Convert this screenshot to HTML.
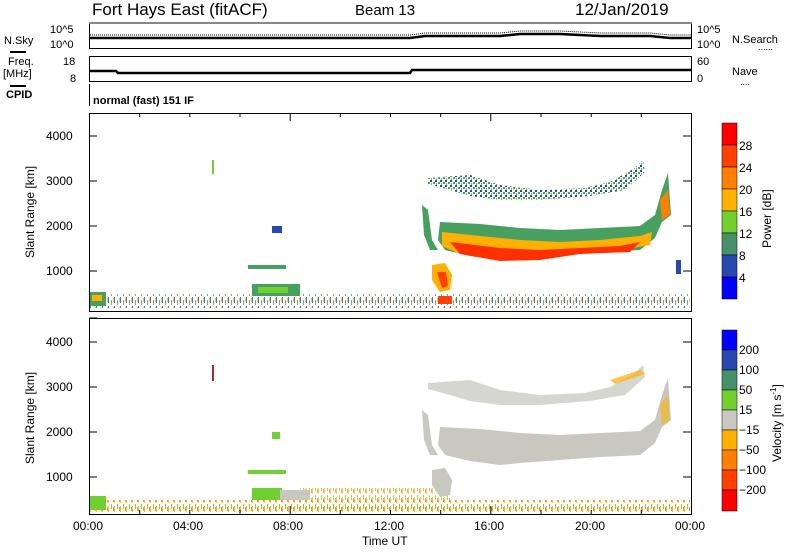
<!DOCTYPE html>
<html><head><style>
body{margin:0;background:#fff;}
svg{display:block;font-family:"Liberation Sans",sans-serif;}
</style></head><body>
<svg width="800" height="554" viewBox="0 0 800 554">
<defs>
<pattern id="spk" width="6" height="9" patternUnits="userSpaceOnUse">
<rect x="0" y="0" width="1" height="6" fill="#2848b0"/><rect x="3" y="3" width="1" height="5" fill="#48a060"/><rect x="5" y="1" width="1" height="4" fill="#ffb000"/>
</pattern>
<pattern id="spk2" width="6" height="9" patternUnits="userSpaceOnUse">
<rect x="0" y="2" width="1" height="6" fill="#ffb000"/><rect x="3" y="0" width="1" height="5" fill="#70d030"/><rect x="5" y="3" width="1" height="4" fill="#ff8000"/>
</pattern>
<pattern id="sp3" width="5" height="5" patternUnits="userSpaceOnUse">
<rect x="0" y="0" width="2" height="2" fill="#2848b0"/><rect x="3" y="2" width="2" height="2" fill="#48a060"/><rect x="1" y="3" width="1" height="2" fill="#70d030"/>
</pattern>
</defs>
<text x="92" y="15" font-size="17">Fort Hays East (fitACF)</text>
<text x="355" y="15" font-size="15">Beam 13</text>
<text x="575" y="15" font-size="17">12/Jan/2019</text>
<rect x="89.5" y="23.5" width="602" height="25" fill="none" stroke="#000"/>
<rect x="89" y="22" width="603" height="2" fill="#888"/>
<path d="M90 38 H410 L425 36 H500 L520 34 H560 L600 36 H650 L670 38 H691" stroke="#000" stroke-width="2.5" fill="none"/>
<path d="M90 35 H410 L425 33 H500 L520 31 H560 L600 33 H650 L670 35 H691" stroke="#000" stroke-width="1" stroke-dasharray="1,1" fill="none"/>
<text x="50" y="33" font-size="11">10^5</text><text x="50" y="48" font-size="11">10^0</text>
<text x="697" y="33" font-size="11">10^5</text><text x="697" y="48" font-size="11">10^0</text>
<text x="4" y="44" font-size="11">N.Sky</text><line x1="10" y1="52" x2="26" y2="52" stroke="#000" stroke-width="2"/>
<text x="732" y="43" font-size="11">N.Search</text><text x="758" y="50" font-size="9">......</text>
<rect x="89.5" y="56.5" width="602" height="25" fill="none" stroke="#000"/>
<path d="M90 71 H116 L118 73 H410 L412 70 H691" stroke="#000" stroke-width="2.5" fill="none"/>
<text x="63" y="65" font-size="11">18</text><text x="70" y="82" font-size="11">8</text>
<text x="697" y="65" font-size="11">60</text><text x="697" y="82" font-size="11">0</text>
<text x="8" y="65" font-size="11">Freq.</text><text x="3" y="77" font-size="11">[MHz]</text><line x1="10" y1="86" x2="26" y2="86" stroke="#000" stroke-width="2"/>
<text x="732" y="75" font-size="11">Nave</text><text x="740" y="85" font-size="9">....</text>
<text x="6" y="98" font-size="11" font-weight="bold">CPID</text>
<line x1="89.5" y1="84" x2="89.5" y2="106" stroke="#000"/>
<text x="93" y="104" font-size="11" font-weight="bold">normal (fast) 151 IF</text>

<!-- Power panel data -->
<g>
<rect x="90" y="294" width="600" height="14" fill="url(#spk)" opacity="0.8"/>
<rect x="90" y="292" width="16" height="14" fill="#48a060"/><rect x="92" y="295" width="10" height="6" fill="#ffb000"/>
<rect x="252" y="284" width="48" height="12" fill="#48a060"/><rect x="258" y="287" width="30" height="6" fill="#70d030"/>
<rect x="248" y="265" width="38" height="4" fill="#48a060"/>
<rect x="272" y="226" width="10" height="7" fill="#2848b0"/>
<rect x="212" y="160" width="2" height="14" fill="#70d030"/>
<path d="M422 205 L428 210 L432 240 L438 250 L430 250 L424 235 Z" fill="#48a060"/>
<path d="M432 265 L445 263 L452 275 L450 290 L440 292 L432 280 Z" fill="#ffb000"/><path d="M437 272 L446 272 L448 286 L442 288 Z" fill="#ff4000"/>
<rect x="438" y="296" width="14" height="8" fill="#ff4000"/>
<path d="M440 222 L480 224 L520 228 L560 230 L600 228 L640 226 L655 215 L662 190 L668 173 L671 215 L662 222 L655 238 L640 250 L600 252 L560 255 L520 258 L500 260 L470 256 L445 250 L438 240 Z" fill="#48a060"/>
<path d="M442 232 L480 236 L520 240 L560 242 L600 240 L640 236 L652 232 L650 245 L620 250 L580 252 L540 258 L500 258 L460 254 L442 246 Z" fill="#ffb000"/>
<path d="M450 242 L500 248 L540 250 L580 248 L620 246 L640 242 L630 252 L580 254 L540 260 L500 261 L460 254 Z" fill="#ff3000"/>
<path d="M660 200 L668 190 L670 215 L662 220 Z" fill="#ff8000"/>
<path d="M428 178 L470 175 L500 185 L540 190 L585 188 L610 182 L635 168 L643 160 L645 172 L625 190 L590 196 L540 200 L500 200 L470 196 L450 190 L428 184 Z" fill="url(#sp3)"/>
<rect x="676" y="260" width="5" height="14" fill="#2848b0"/>
</g>
<!-- Velocity panel data -->
<g>
<rect x="90" y="500" width="600" height="12" fill="url(#spk2)" opacity="0.9"/>
<rect x="300" y="488" width="150" height="22" fill="url(#spk2)" opacity="0.7"/>
<rect x="90" y="496" width="16" height="14" fill="#70d030"/>
<rect x="252" y="488" width="30" height="12" fill="#70d030"/><rect x="280" y="490" width="30" height="10" fill="#c8c8c0"/>
<rect x="248" y="470" width="38" height="4" fill="#70d030"/>
<rect x="272" y="432" width="8" height="7" fill="#70d030"/>
<rect x="212" y="365" width="2" height="16" fill="#a03030"/>
<path d="M422 410 L428 415 L432 445 L438 455 L430 455 L424 440 Z" fill="#c8c8c0"/>
<path d="M432 470 L445 468 L452 480 L450 495 L440 497 L432 485 Z" fill="#c8c8c0"/>
<path d="M440 427 L480 429 L520 433 L560 435 L600 433 L640 431 L655 420 L662 395 L668 378 L671 420 L662 427 L655 443 L640 455 L600 457 L560 460 L520 463 L500 465 L470 461 L445 455 L438 445 Z" fill="#c8c8c0"/>
<path d="M428 383 L470 380 L500 390 L540 395 L585 393 L610 387 L635 373 L643 365 L645 377 L625 395 L590 401 L540 405 L500 405 L470 401 L450 395 L428 389 Z" fill="#c8c8c0" opacity="0.75"/>
<path d="M610 380 L640 370 L645 374 L615 384 Z" fill="#ffb000" opacity="0.7"/>
<path d="M660 405 L668 395 L670 420 L662 425 Z" fill="#ffb000" opacity="0.6"/>
</g>

<g fill="none" stroke="#000">
<rect x="89.5" y="113.5" width="602" height="198"/>
<rect x="89.5" y="318.5" width="602" height="196"/>
</g>
<g stroke="#000">
<path d="M89.5 514V506 M139.7 514V510 M189.8 514V510 M240 514V510 M290.2 514V506 M340.3 514V510 M390.5 514V510 M440.7 514V510 M490.8 514V506 M541 514V510 M591.2 514V510 M641.3 514V510 M691.5 514V506"/>
<path d="M89.5 113V121 M139.7 113V117 M189.8 113V117 M240 113V117 M290.2 113V121 M340.3 113V117 M390.5 113V117 M440.7 113V117 M490.8 113V121 M541 113V117 M591.2 113V117 M641.3 113V117 M691.5 113V121"/>
<path d="M89 136H97 M89 181H97 M89 226H97 M89 271H97 M691 136H683 M691 181H683 M691 226H683 M691 271H683"/>
<path d="M89 318H97 M89 342H97 M89 387H97 M89 432H97 M89 477H97 M691 342H683 M691 387H683 M691 432H683 M691 477H683"/>
</g>
<g font-size="12">
<text x="46" y="140">4000</text><text x="46" y="185">3000</text><text x="46" y="230">2000</text><text x="46" y="275">1000</text>
<text x="46" y="346">4000</text><text x="46" y="391">3000</text><text x="46" y="436">2000</text><text x="46" y="481">1000</text>
<text x="73" y="530">00:00</text><text x="173" y="530">04:00</text><text x="273" y="530">08:00</text><text x="374" y="530">12:00</text><text x="474" y="530">16:00</text><text x="575" y="530">20:00</text><text x="675" y="530">00:00</text>
<text x="362" y="545">Time UT</text>
<text transform="translate(34,258) rotate(-90)">Slant Range [km]</text>
<text transform="translate(34,464) rotate(-90)">Slant Range [km]</text>
</g>
<g stroke="#000" stroke-width="0.5">
<rect x="722" y="123" width="15" height="22" fill="#ff0000"/><rect x="722" y="145" width="15" height="22" fill="#ff4000"/>
<rect x="722" y="167" width="15" height="22" fill="#ff8000"/><rect x="722" y="189" width="15" height="22" fill="#ffb000"/>
<rect x="722" y="211" width="15" height="22" fill="#70d030"/><rect x="722" y="233" width="15" height="22" fill="#48906a"/>
<rect x="722" y="255" width="15" height="22" fill="#2848b0"/><rect x="722" y="277" width="15" height="22" fill="#0000ff"/>
</g>
<g font-size="12"><text x="739" y="150">28</text><text x="739" y="172">24</text><text x="739" y="194">20</text><text x="739" y="216">16</text><text x="739" y="238">12</text><text x="739" y="260">8</text><text x="739" y="282">4</text>
<text transform="translate(771,248) rotate(-90)">Power [dB]</text></g>
<g stroke="#000" stroke-width="0.5">
<rect x="722" y="330" width="15" height="20" fill="#0000ff"/><rect x="722" y="350" width="15" height="20" fill="#2848b0"/>
<rect x="722" y="370" width="15" height="20" fill="#48906a"/><rect x="722" y="390" width="15" height="20" fill="#70d030"/>
<rect x="722" y="410" width="15" height="20" fill="#c8c8c0"/><rect x="722" y="430" width="15" height="20" fill="#ffb000"/>
<rect x="722" y="450" width="15" height="20" fill="#ff8000"/><rect x="722" y="470" width="15" height="20" fill="#ff4000"/>
<rect x="722" y="490" width="15" height="21" fill="#ff0000"/>
</g>
<g font-size="12"><text x="739" y="354">200</text><text x="739" y="374">100</text><text x="739" y="394">50</text><text x="739" y="414">15</text><text x="739" y="434">−15</text><text x="739" y="454">−50</text><text x="739" y="474">−100</text><text x="739" y="494">−200</text>
<text transform="translate(781,462) rotate(-90)">Velocity [m s<tspan dy="-5" font-size="8">-1</tspan><tspan dy="5">]</tspan></text></g>
</svg>
</body></html>
